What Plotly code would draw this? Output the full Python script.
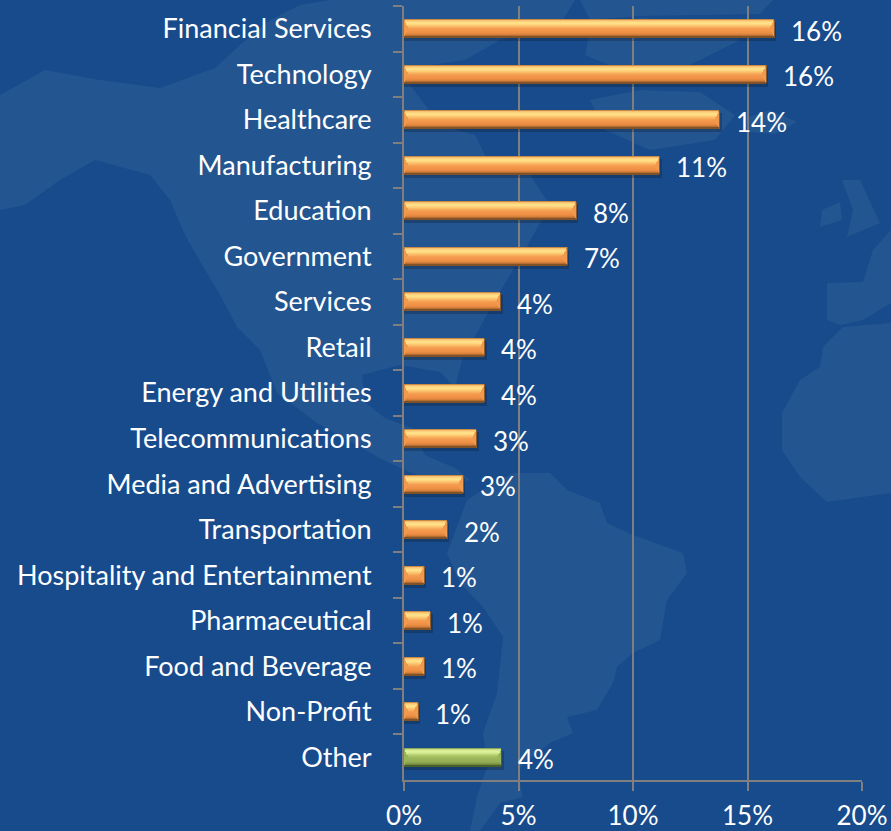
import plotly.graph_objects as go

industries = ["Financial Services", "Technology", "Healthcare", "Manufacturing", "Education",
              "Government", "Services", "Retail", "Energy and Utilities", "Telecommunications",
              "Media and Advertising", "Transportation", "Hospitality and Entertainment",
              "Pharmaceutical", "Food and Beverage", "Non-Profit", "Other"]
shares = [16.2, 15.85, 13.8, 11.2, 7.55, 7.15, 4.25, 3.55, 3.55, 3.2, 2.6, 1.9, 0.9, 1.2, 0.9, 0.65, 4.3]
share_labels = ["16%", "16%", "14%", "11%", "8%", "7%", "4%", "4%", "4%", "3%", "3%", "2%",
                "1%", "1%", "1%", "1%", "4%"]
x_ticks = [0, 5, 10, 15, 20]
x_tick_labels = ["0%", "5%", "10%", "15%", "20%"]

W, H = 891, 831
L, R, T, B = 404, 862, 6, 780
BG = "#184B8C"
LAND = "#235590"
GRID = "#7F7F7F"
FONT = "Lato"

orange_rows = ["#C98A45", "#F7C272", "#FDD07C", "#FFDE88", "#FFDF87", "#FFD67D", "#FDC872", "#FBBA66", "#F8AD5C",
               "#F5A052", "#F39A4E", "#F2964A", "#F09348", "#ED9046", "#E68A42", "#D8813D", "#B56D34", "#7F5228"]
green_rows = ["#8BA65A", "#C7E085", "#D5EC93", "#DDF29B", "#D8EE95", "#CCE388", "#BED67A", "#B0CA6C", "#A6C162",
              "#A0BB5E", "#9CB75B", "#99B458", "#97B156", "#94AE54", "#8EA850", "#82994A", "#6F8A3E", "#4A5F2A"]
orange_base, green_base = "#F19A4E", "#9AB458"

px_per_unit = (R - L) / 20
slot = (B - T) / len(industries)
bar_px = 18


def path(points):
    d = "M" + " L".join(f"{(x - L) / (R - L):.4f},{(B - y) / (B - T):.4f}" for x, y in points) + " Z"
    return dict(type="path", xref="paper", yref="paper", path=d, fillcolor=LAND,
                line=dict(width=0), layer="below")


north_america = [(0, 95), (45, 70), (100, 80), (160, 88), (215, 68), (240, 45), (270, 20), (300, 5), (330, 0),
                 (575, 0), (560, 25), (500, 40), (465, 60), (430, 65), (410, 85), (440, 125), (475, 135),
                 (490, 165), (530, 175), (550, 205), (525, 250), (495, 300), (462, 360), (455, 388), (440, 372),
                 (400, 365), (362, 375), (365, 402), (385, 418), (412, 428), (425, 455), (455, 468), (470, 480),
                 (440, 485), (405, 470), (383, 460), (317, 423), (277, 393), (260, 350), (237, 327), (220, 295),
                 (205, 270), (185, 235), (170, 200), (150, 175), (95, 160), (60, 180), (25, 205), (0, 210)]
greenland = [(590, 30), (640, 18), (720, 22), (740, 40), (700, 60), (660, 78), (620, 70), (585, 55)]
top_strip = [(580, 0), (773, 0), (760, 14), (640, 16), (590, 20)]
iceland = [(745, 118), (770, 110), (797, 122), (775, 134), (750, 132)]
patch = [(590, 100), (640, 90), (700, 92), (735, 115), (715, 140), (650, 150), (605, 130)]
south_america = [(513, 473), (550, 473), (567, 490), (600, 503), (607, 523), (633, 535), (683, 553), (687, 573),
                 (667, 600), (660, 640), (633, 653), (617, 667), (613, 683), (597, 710), (567, 717), (573, 733),
                 (550, 743), (517, 770), (523, 797), (500, 803), (480, 831), (470, 831), (477, 797), (487, 767),
                 (483, 733), (497, 693), (503, 637), (483, 607), (460, 583), (447, 553), (457, 527), (467, 500),
                 (487, 487)]
africa = [(782, 450), (782, 413), (800, 380), (820, 367), (823, 347), (843, 327), (891, 323), (891, 493),
          (827, 502), (800, 477)]
iberia = [(827, 283), (863, 282), (873, 250), (891, 230), (891, 303), (863, 320), (840, 325), (827, 320)]
britain = [(842, 180), (860, 180), (880, 223), (847, 237), (853, 210)]
ireland = [(820, 227), (822, 210), (840, 202), (842, 220)]

shapes = [path(p) for p in (north_america, greenland, top_strip, iceland, patch, south_america,
                            africa, iberia, britain, ireland)]

fig = go.Figure()
u = 1 / slot
colors_for = lambda o, g: [g if c == "Other" else o for c in industries]
common = dict(y=industries, orientation="h", hoverinfo="skip", showlegend=False)

# soft shadow, body, then bevelled rows
fig.add_trace(go.Bar(x=[v + 1.5 / px_per_unit for v in shares], width=(bar_px + 1) * u,
                     offset=(-bar_px / 2 + 2.5) * u, marker=dict(color="rgba(15,30,50,0.32)", line_width=0), **common))
fig.add_trace(go.Bar(x=shares, width=bar_px * u, offset=(-bar_px / 2) * u,
                     marker=dict(color=colors_for("#8A5A2C", "#4A5F2A"), line_width=0), **common))
fig.add_trace(go.Bar(x=[v - 1 / px_per_unit for v in shares], width=(bar_px - 1) * u, offset=(-bar_px / 2) * u,
                     marker=dict(color=colors_for(orange_base, green_base), line_width=0), **common))
for r in range(bar_px):
    inset = min(r, bar_px - 1 - r) * 0.62 / px_per_unit
    right_extra = 1 / px_per_unit
    fig.add_trace(go.Bar(x=[max(v - 2 * inset - right_extra, 0) for v in shares],
                         base=[inset] * len(shares),
                         width=1.15 * u, offset=(-bar_px / 2 + r) * u,
                         marker=dict(color=colors_for(orange_rows[r], green_rows[r]), line_width=0), **common))

annotations = [dict(x=v, y=c, text=t, xref="x", yref="y", xanchor="left", yanchor="middle", xshift=14, yshift=-2,
                    showarrow=False, font=dict(family=FONT, size=26, color="white"))
               for v, c, t in zip(shares, industries, share_labels)]

fig.update_layout(
    width=W, height=H, autosize=False,
    margin=dict(l=L, r=W - R, t=T, b=H - B, pad=0),
    paper_bgcolor=BG, plot_bgcolor="rgba(0,0,0,0)",
    barmode="overlay", bargap=0, shapes=shapes, annotations=annotations,
    font=dict(family=FONT, color="white", size=25),
    xaxis=dict(range=[0, 20], automargin=False, tickvals=x_ticks, ticktext=x_tick_labels, showgrid=True,
               gridcolor=GRID, gridwidth=2,
               zeroline=False, showline=True, linecolor=GRID, linewidth=2, ticks="outside", ticklen=9, tickwidth=2,
               tickcolor=GRID, tickfont=dict(family=FONT, size=26, color="white"), ticklabelstandoff=3),
    yaxis=dict(type="category", automargin=False, categoryorder="array", categoryarray=industries, range=[16.5, -0.5],
               showgrid=False, zeroline=False, showline=True, linecolor=GRID, linewidth=2, ticks="outside",
               tickson="boundaries", ticklen=9, tickwidth=2, tickcolor=GRID,
               tickfont=dict(family=FONT, size=27, color="white"), ticklabelstandoff=25),
)

fig.write_html("out.html", post_script="document.body.style.margin='0';document.body.style.background='%s';" % BG,
               config=dict(displayModeBar=False))
